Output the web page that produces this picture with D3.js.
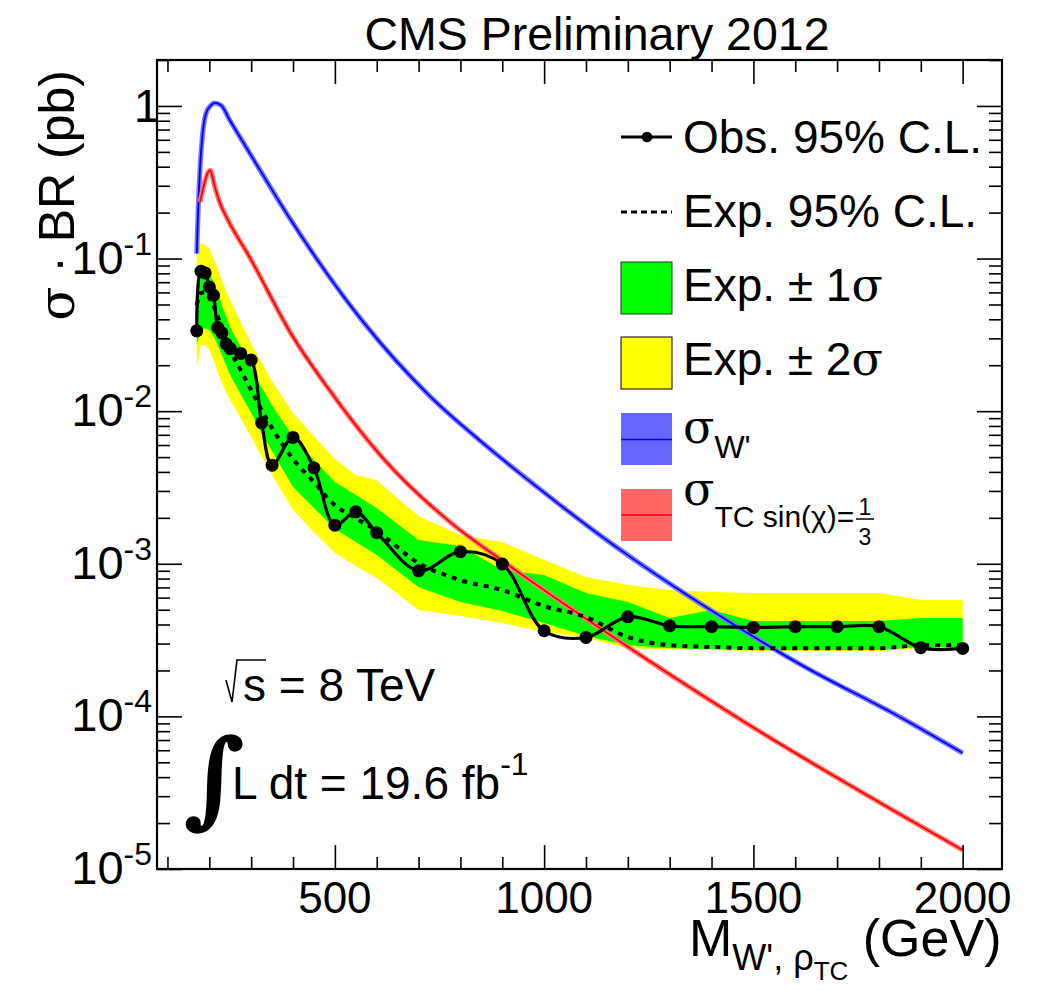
<!DOCTYPE html>
<html>
<head>
<meta charset="utf-8">
<script src="https://cdn.jsdelivr.net/npm/d3@7"></script>
<style>
body { margin: 0; background: #fff; }
svg { display: block; font-family: "Liberation Sans", Arial, Helvetica, sans-serif; }
</style>
</head>
<body>
<svg width="1037" height="991"></svg>
<script>
// limit points (GeV, pb)
var masses = [170,180,190,200,210,220,230,240,250,275,300,325,350,400,450,500,550,600,700,800,900,1000,1100,1200,1300,1400,1500,1600,1700,1800,1900,2000];
var obsLimit = [0.0336,0.0826,0.0805,0.0652,0.0575,0.0353,0.0326,0.0276,0.0257,0.0239,0.0216,0.00839,0.00443,0.00673,0.00425,0.00179,0.00219,0.00160,0.000899,0.00120,0.000995,0.000364,0.000329,0.000449,0.000392,0.000387,0.000383,0.000387,0.000387,0.000387,0.000282,0.000279];
var expLimit = [0.0495,0.0593,0.0602,0.0550,0.0488,0.0419,0.0350,0.0292,0.0251,0.01856,0.01373,0.01016,0.00774,0.00485,0.00343,0.00242,0.00199,0.00164,0.00101,0.000781,0.000672,0.000528,0.000447,0.000331,0.000293,0.000285,0.000280,0.000280,0.000280,0.000280,0.000293,0.000293];
var expMinus2 = [0.0194,0.0271,0.0271,0.0251,0.0216,0.0180,0.0153,0.01332,0.01181,0.00900,0.00676,0.00507,0.00381,0.00225,0.00161,0.001175,0.000966,0.000806,0.000497,0.000454,0.000409,0.000357,0.000326,0.000280,0.000276,0.000272,0.000268,0.000268,0.000268,0.000268,0.000280,0.000280];
var expMinus1 = [0.0271,0.0339,0.0350,0.0339,0.0310,0.0271,0.0233,0.0200,0.0172,0.01293,0.00971,0.00718,0.00547,0.00318,0.00232,0.00169,0.00139,0.00114,0.000703,0.000561,0.000490,0.000409,0.000336,0.000293,0.000280,0.000276,0.000272,0.000272,0.000272,0.000272,0.000285,0.000285];
var expPlus1 = [0.0722,0.0839,0.0865,0.0814,0.0700,0.0602,0.0495,0.0419,0.0355,0.0263,0.0194,0.01437,0.01095,0.00676,0.00478,0.00343,0.00282,0.00232,0.00143,0.00131,0.000909,0.000843,0.000643,0.000561,0.000441,0.000497,0.000421,0.000421,0.000421,0.000421,0.000441,0.000441];
var expPlus2 = [0.1223,0.126,0.1223,0.1169,0.1006,0.0865,0.0722,0.0618,0.0534,0.0383,0.0279,0.0206,0.0157,0.00971,0.00686,0.00485,0.00381,0.00353,0.00205,0.00154,0.00139,0.001057,0.000818,0.000725,0.000672,0.000652,0.000643,0.000643,0.000643,0.000643,0.000578,0.000578];

// theory cross sections
var wprimeMass = [170,173,178,184,192,204,212,228,249,297,392,472,568,727,854,1014,1133,1316,1451,1611,1850,2000];
var wprimeXsec = [0.108,0.197,0.399,0.659,0.892,1.01,1.046,1.01,0.806,0.488,0.1838,0.0865,0.0383,0.01254,0.00617,0.002734,0.001541,0.000693,0.000403,0.000220,0.0000990,0.0000575];
var tcMass = [178,202,212,226,241,299,395,499,619,779,898,1133,1471,2000];
var tcXsec = [0.235,0.379,0.303,0.229,0.187,0.099,0.0323,0.0124,0.00478,0.00184,0.001057,0.000379,0.0000946,0.0000133];

var xMajor = [500,1000,1500,2000];
var xMinor = d3.range(100, 2001, 100);
var yMajor = [1e-5,1e-4,1e-3,1e-2,1e-1,1];

var svg = d3.select("svg");
var frame = {left: 157, right: 1002, top: 60, bottom: 869};

var x = d3.scaleLinear().domain([75, 2094]).range([frame.left, frame.right]);
var y = d3.scaleLog().domain([1e-5, 2]).range([frame.bottom, frame.top]);

var yMinor = [];
yMajor.forEach(function (p) {
  for (var k = 2; k <= 9; k++) if (p * k <= 2) yMinor.push(p * k);
});

svg.append("defs").append("clipPath").attr("id", "clip")
  .append("rect")
  .attr("x", frame.left).attr("y", frame.top)
  .attr("width", frame.right - frame.left).attr("height", frame.bottom - frame.top);

var plot = svg.append("g").attr("clip-path", "url(#clip)");

function band(lo, hi) {
  return d3.area()
    .x(function (d) { return x(d); })
    .y0(function (d, i) { return y(lo[i]); })
    .y1(function (d, i) { return y(hi[i]); })(masses);
}

plot.append("path").attr("d", band(expMinus2, expPlus2)).attr("fill", "#ffff00");
plot.append("path").attr("d", band(expMinus1, expPlus1)).attr("fill", "#00ff00");

var theory = d3.line().curve(d3.curveMonotoneX);

function drawTheory(ms, vs, bandColor, lineColor) {
  var pts = ms.map(function (m, i) { return [x(m), y(vs[i])]; });
  plot.append("path").attr("d", theory(pts)).attr("fill", "none")
    .attr("stroke", bandColor).attr("stroke-width", 5).attr("stroke-linejoin", "round");
  plot.append("path").attr("d", theory(pts)).attr("fill", "none")
    .attr("stroke", lineColor).attr("stroke-width", 1.8);
}
drawTheory(wprimeMass, wprimeXsec, "#7777ff", "#0000ff");
drawTheory(tcMass, tcXsec, "#ff7777", "#ff0000");

// expected
plot.append("path")
  .attr("d", d3.line().curve(d3.curveMonotoneX)(masses.map(function (m, i) { return [x(m), y(expLimit[i])]; })))
  .attr("fill", "none").attr("stroke", "#000").attr("stroke-width", 4)
  .attr("stroke-dasharray", "5,6");

// observed
plot.append("path")
  .attr("d", d3.line().curve(d3.curveCatmullRom.alpha(0.5))(masses.map(function (m, i) { return [x(m), y(obsLimit[i])]; })))
  .attr("fill", "none").attr("stroke", "#000").attr("stroke-width", 3.2);

plot.selectAll("circle.obs").data(masses).enter().append("circle")
  .attr("class", "obs")
  .attr("cx", function (d) { return x(d); })
  .attr("cy", function (d, i) { return y(obsLimit[i]); })
  .attr("r", 6.5).attr("fill", "#000");

// axes, ticks pointing inwards on all four sides
function tickAxis(axis, pos, vals, size) {
  var g = svg.append("g").attr("transform", pos)
    .call(axis.tickValues(vals).tickSize(size).tickFormat(""));
  g.select(".domain").remove();
  g.selectAll("line").attr("stroke", "#000").attr("stroke-width", 1.6);
  return g;
}
var xMinorOnly = xMinor.filter(function (v) { return xMajor.indexOf(v) < 0; });
tickAxis(d3.axisBottom(x), "translate(0," + frame.bottom + ")", xMinorOnly, -12);
tickAxis(d3.axisBottom(x), "translate(0," + frame.bottom + ")", xMajor, -24);
tickAxis(d3.axisTop(x), "translate(0," + frame.top + ")", xMinorOnly, -12);
tickAxis(d3.axisTop(x), "translate(0," + frame.top + ")", xMajor, -24);
tickAxis(d3.axisLeft(y), "translate(" + frame.left + ",0)", yMinor, -13);
tickAxis(d3.axisLeft(y), "translate(" + frame.left + ",0)", yMajor, -25);
tickAxis(d3.axisRight(y), "translate(" + frame.right + ",0)", yMinor, -13);
tickAxis(d3.axisRight(y), "translate(" + frame.right + ",0)", yMajor, -25);

svg.append("rect")
  .attr("x", frame.left).attr("y", frame.top)
  .attr("width", frame.right - frame.left).attr("height", frame.bottom - frame.top)
  .attr("fill", "none").attr("stroke", "#000").attr("stroke-width", 2.2);

// tick labels
svg.selectAll("text.xl").data(xMajor).enter().append("text")
  .attr("x", function (d) { return x(d); }).attr("y", 913)
  .attr("text-anchor", "middle").attr("font-size", 44).text(function (d) { return d; });

yMajor.forEach(function (v) {
  var e = Math.round(Math.log10(v));
  var t = svg.append("text").attr("y", y(v) + 15).attr("font-size", 47).attr("text-anchor", "end");
  if (e === 0) {
    t.attr("x", 160).attr("y", y(v) + 16).text("1");
  } else {
    t.attr("x", 152);
    t.append("tspan").text("10");
    t.append("tspan").attr("font-size", 32).attr("dy", -19).text(e);
  }
});

// titles
svg.append("text").attr("x", 597).attr("y", 50).attr("text-anchor", "middle")
  .attr("font-size", 46.5).text("CMS Preliminary 2012");

var yt = svg.append("text").attr("transform", "translate(74,70) rotate(-90)")
  .attr("text-anchor", "end").attr("font-size", 50);
yt.append("tspan").attr("font-family", "'DejaVu Serif', serif").text("σ");
yt.append("tspan").text(" · BR (pb)");

var xt = svg.append("text").attr("x", 689).attr("y", 956).attr("font-size", 52);
xt.append("tspan").text("M");
xt.append("tspan").attr("font-size", 36).attr("dy", 14).text("W', ρ");
xt.append("tspan").attr("font-size", 26).attr("dy", 10).text("TC");
xt.append("tspan").attr("dy", -24).text(" (GeV)");

// legend
var lx0 = 621, lx1 = 672, tx = 683;
var leg = svg.append("g");
leg.append("line").attr("x1", lx0).attr("x2", lx1).attr("y1", 137).attr("y2", 137)
  .attr("stroke", "#000").attr("stroke-width", 3);
leg.append("circle").attr("cx", 647).attr("cy", 137).attr("r", 5.3).attr("fill", "#000");
leg.append("text").attr("x", tx).attr("y", 153).attr("font-size", 46).text("Obs. 95% C.L.");

leg.append("line").attr("x1", lx0).attr("x2", lx1).attr("y1", 212).attr("y2", 212)
  .attr("stroke", "#000").attr("stroke-width", 3).attr("stroke-dasharray", "6,4");
leg.append("text").attr("x", tx).attr("y", 227).attr("font-size", 46).text("Exp. 95% C.L.");

leg.append("rect").attr("x", lx0).attr("y", 262).attr("width", 51).attr("height", 52)
  .attr("fill", "#00ff00").attr("stroke", "#1a3a1a").attr("stroke-width", 1);
var t1 = leg.append("text").attr("x", tx).attr("y", 301).attr("font-size", 46);
t1.append("tspan").text("Exp. ± 1");
t1.append("tspan").attr("font-family", "'DejaVu Serif', serif").text("σ");

leg.append("rect").attr("x", lx0).attr("y", 337).attr("width", 51).attr("height", 52)
  .attr("fill", "#ffff00").attr("stroke", "#000").attr("stroke-width", 1);
var t2 = leg.append("text").attr("x", tx).attr("y", 375).attr("font-size", 46);
t2.append("tspan").text("Exp. ± 2");
t2.append("tspan").attr("font-family", "'DejaVu Serif', serif").text("σ");

leg.append("rect").attr("x", lx0).attr("y", 413).attr("width", 51).attr("height", 52).attr("fill", "#6666ff");
leg.append("line").attr("x1", lx0).attr("x2", lx1).attr("y1", 439.5).attr("y2", 439.5).attr("stroke", "#0000ff").attr("stroke-width", 1.5);
var t3 = leg.append("text").attr("x", tx).attr("y", 443).attr("font-size", 46);
t3.append("tspan").attr("font-family", "'DejaVu Serif', serif").text("σ");
t3.append("tspan").attr("font-size", 32).attr("dy", 15).text("W'");

leg.append("rect").attr("x", lx0).attr("y", 489).attr("width", 51).attr("height", 52).attr("fill", "#ff6666");
leg.append("line").attr("x1", lx0).attr("x2", lx1).attr("y1", 515).attr("y2", 515).attr("stroke", "#ff0000").attr("stroke-width", 1.5);
var t4 = leg.append("text").attr("x", tx).attr("y", 505).attr("font-size", 46);
t4.append("tspan").attr("font-family", "'DejaVu Serif', serif").text("σ");
t4.append("tspan").attr("font-size", 30).attr("dy", 22).text("TC sin(χ)=");
leg.append("text").attr("x", 865).attr("y", 515).attr("text-anchor", "middle").attr("font-size", 23).text("1");
leg.append("line").attr("x1", 856).attr("x2", 874).attr("y1", 519).attr("y2", 519).attr("stroke", "#000").attr("stroke-width", 1.5);
leg.append("text").attr("x", 865).attr("y", 545).attr("text-anchor", "middle").attr("font-size", 23).text("3");

// energy / lumi
svg.append("path").attr("d", "M226,680 L232,702 L237,660 L266,660")
  .attr("fill", "none").attr("stroke", "#000").attr("stroke-width", 1.6);
svg.append("text").attr("x", 243).attr("y", 701).attr("font-size", 46).text("s = 8 TeV");

svg.append("text").attr("x", 184).attr("y", 814).attr("font-size", 104)
  .attr("font-family", "'DejaVu Serif', serif").attr("font-weight", "bold")
  .attr("stroke", "#000").attr("stroke-width", 1.5).text("∫");
var lumi = svg.append("text").attr("x", 232).attr("y", 799).attr("font-size", 46);
lumi.append("tspan").text("L dt = 19.6 fb");
lumi.append("tspan").attr("font-size", 32).attr("dy", -24).text("-1");
</script>
</body>
</html>
